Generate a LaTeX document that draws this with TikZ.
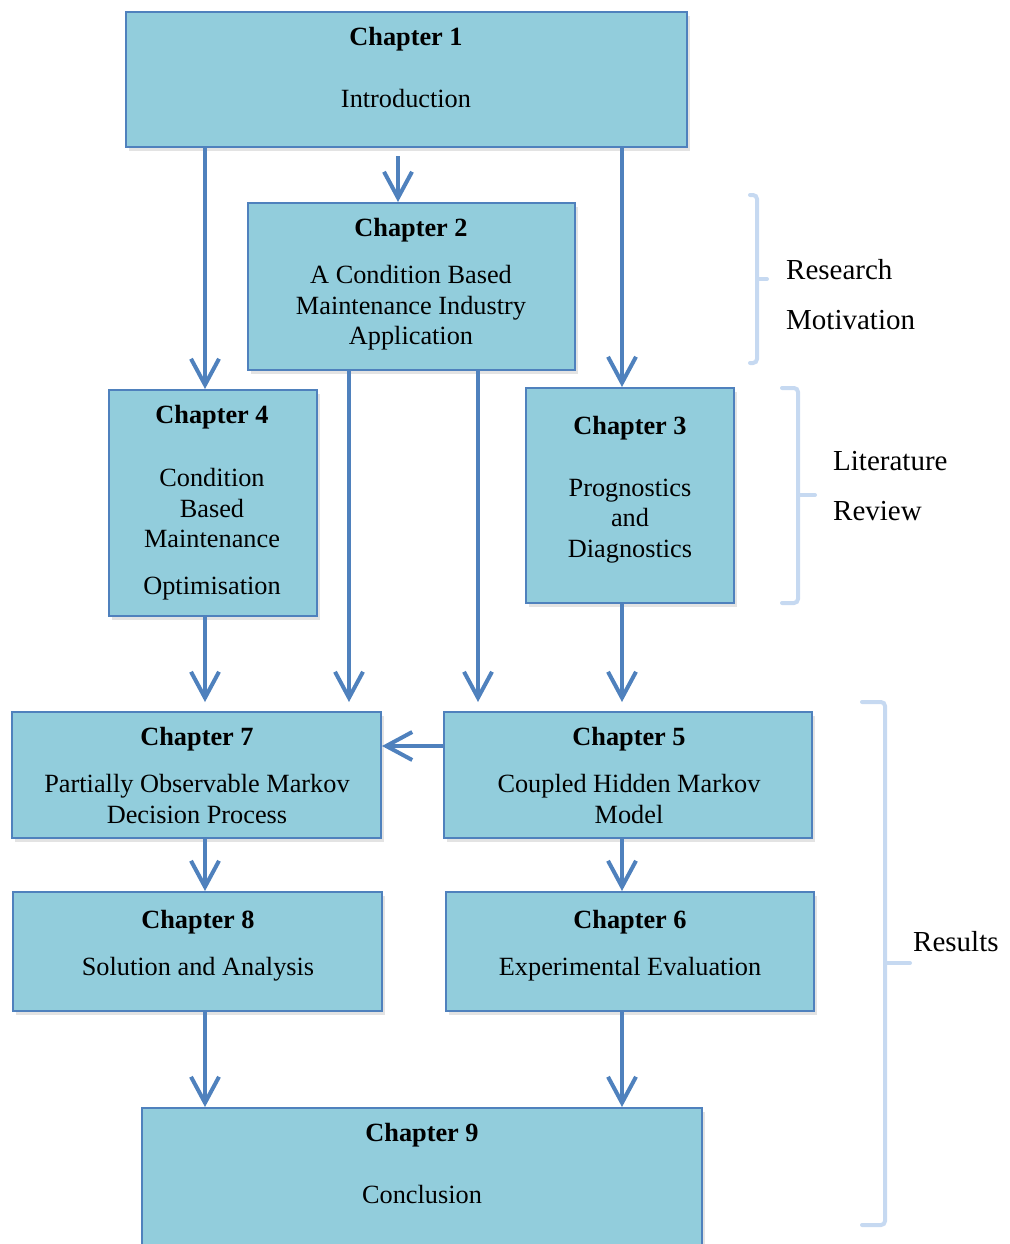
\documentclass[tikz,border=0pt]{standalone}
\usepackage{fontspec}
\setmainfont{Liberation Serif}
\usetikzlibrary{arrows.meta,shadows}
\definecolor{boxfill}{RGB}{146,205,220}
\definecolor{boxline}{RGB}{79,129,189}
\definecolor{bracecol}{RGB}{198,217,241}
\begin{document}
\begin{tikzpicture}[x=1pt,y=-1pt,
    chap/.style={draw=boxline,fill=boxfill,line width=2pt,inner sep=0pt,
      drop shadow={opacity=0.22,shadow xshift=3pt,shadow yshift=-4pt}},
    txt/.style={font=\fontsize{26.3}{30.5}\selectfont,align=center,inner sep=0pt,
      execute at begin node=\strut,execute at end node=\strut},
    side/.style={txt,font=\fontsize{29}{33.5}\selectfont,align=left,anchor=west},
    flow/.style={draw=boxline,line width=4pt,-{Straight Barb[length=26pt,width=28pt]}},
    brace/.style={draw=bracecol,line width=4pt,line cap=round,rounded corners=4pt}]
  \clip (0,0) rectangle (1009,1244);
  \node[chap,minimum width=561,minimum height=135] (c1) at (406.5,79.5) {};
  \node[chap,minimum width=327,minimum height=167] (c2) at (411.5,286.5) {};
  \node[chap,minimum width=208,minimum height=226] (c4) at (213,503) {};
  \node[chap,minimum width=208,minimum height=215] (c3) at (630,495.5) {};
  \node[chap,minimum width=369,minimum height=126] (c7) at (196.5,775) {};
  \node[chap,minimum width=368,minimum height=126] (c5) at (628,775) {};
  \node[chap,minimum width=369,minimum height=119] (c8) at (197.5,951.5) {};
  \node[chap,minimum width=368,minimum height=119] (c6) at (630,951.5) {};
  \node[chap,minimum width=560,minimum height=152] (c9) at (422,1184) {};

  \node[txt] (t1) at (406,72) {\textbf{Chapter 1}\\[31.5pt]Introduction};
  \node[txt] (t2) at (411,286) {\textbf{Chapter 2}\\[16.5pt]A Condition Based\\Maintenance Industry\\Application};
  \node[txt] (t4) at (212,504.5) {\textbf{Chapter 4}\\[32.5pt]Condition\\Based\\Maintenance\\[16.5pt]Optimisation};
  \node[txt] (t3) at (630,491) {\textbf{Chapter 3}\\[31.5pt]Prognostics\\and\\Diagnostics};
  \node[txt] (t7) at (197,780) {\textbf{Chapter 7}\\[16.5pt]Partially Observable Markov\\Decision Process};
  \node[txt] (t5) at (629,780) {\textbf{Chapter 5}\\[16.5pt]Coupled Hidden Markov\\Model};
  \node[txt] (t8) at (198,947.5) {\textbf{Chapter 8}\\[16.5pt]Solution and Analysis};
  \node[txt] (t6) at (630,947.5) {\textbf{Chapter 6}\\[16.5pt]Experimental Evaluation};
  \node[txt] (t9) at (422,1168) {\textbf{Chapter 9}\\[31.5pt]Conclusion};

  \coordinate (xa) at (205,0);
  \coordinate (xb) at (349,0);
  \coordinate (xc) at (398,0);
  \coordinate (xd) at (478,0);
  \coordinate (xe) at (622,0);
  \coordinate (yh) at (0,746);

  \draw[flow] (c1.south -| xa) -- (c4.north -| xa);
  \draw[flow,shorten <=8pt] (c1.south -| xc) -- (c2.north -| xc);
  \draw[flow] (c1.south -| xe) -- (c3.north -| xe);
  \draw[flow,shorten >=9pt] (c4.south -| xa) -- (c7.north -| xa);
  \draw[flow,shorten >=9pt] (c2.south -| xb) -- (c7.north -| xb);
  \draw[flow,shorten >=9pt] (c2.south -| xd) -- (c5.north -| xd);
  \draw[flow,shorten >=9pt] (c3.south -| xe) -- (c5.north -| xe);
  \draw[flow] (c5.west |- yh) -- (c7.east |- yh);
  \draw[flow] (c7.south -| xa) -- (c8.north -| xa);
  \draw[flow] (c5.south -| xe) -- (c6.north -| xe);
  \draw[flow] (c8.south -| xa) -- (c9.north -| xa);
  \draw[flow] (c6.south -| xe) -- (c9.north -| xe);

  \draw[brace] (750,195) -- (757,195) -- (757,363) -- (750,363);
  \draw[brace] (757,279) -- (767,279);
  \draw[brace] (782,388) -- (798,388) -- (798,603) -- (782,603);
  \draw[brace] (798,495) -- (815,495);
  \draw[brace] (862,702) -- (885,702) -- (885,1225) -- (862,1225);
  \draw[brace] (885,963) -- (910,963);

  \node[side] (rm) at (786,299) {Research\\[16.5pt]Motivation};
  \node[side] (lr) at (833,491) {Literature\\[16.5pt]Review};
  \node[side] (rs) at (913,945) {Results};
\end{tikzpicture}
\end{document}
